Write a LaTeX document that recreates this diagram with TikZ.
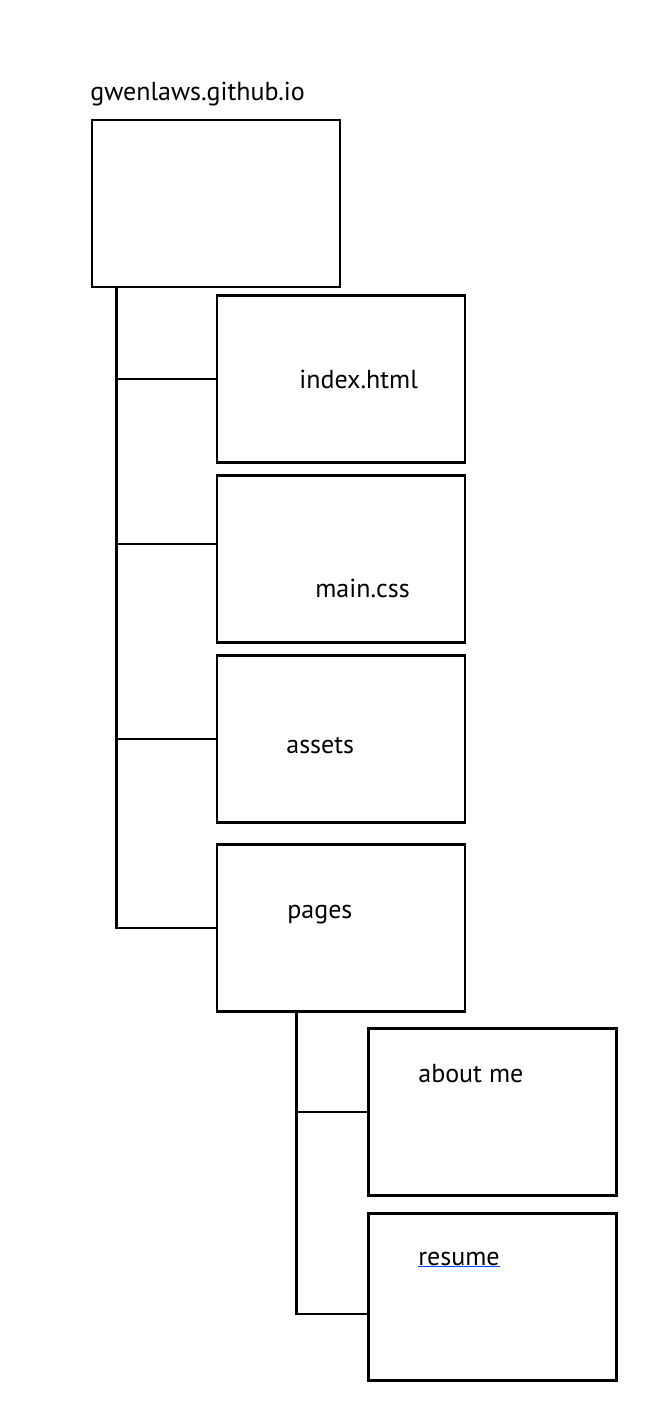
\documentclass[tikz,border=0pt]{standalone}
\usepackage{fontspec}
\setmainfont{PT Sans}
\usepackage{tikz}
\usetikzlibrary{calc}

\begin{document}
\begin{tikzpicture}[x=0.02cm,y=-0.02cm,
  folder/.style={draw,line width=1.6pt,minimum width=4.96cm,minimum height=3.34cm,inner sep=0pt},
  lbl/.style={anchor=base west,inner sep=0pt,font=\fontsize{14.8}{17}\selectfont},
  link/.style={line width=1.6pt}]
\useasboundingbox (0,0) rectangle (662,1416);
\node[lbl] (title) at (90,101) {gwenlaws.github.io};
\node[folder] (root) at (216,203.5) {};
\node[folder] (index) at (341,379) {};
\node[folder] (css) at (341,559) {};
\node[folder] (assets) at (341,739) {};
\node[folder] (pages) at (341,928) {};
\node[folder] (about) at (492.5,1112) {};
\node[folder] (resume) at (492.5,1297) {};
\node[lbl] (tindex) at (299,388) {index.html};
\node[lbl] (tcss) at (315,597) {main.css};
\node[lbl] (tassets) at (286,753) {assets};
\node[lbl] (tpages) at (287,918) {pages};
\node[lbl] (tabout) at (418,1082) {about me};
\node[lbl] (tresume) at (418,1265) {resume};
\draw[blue!70!cyan,line width=0.9pt] (tresume.base west)++(0,1.5) -- ($(tresume.base east)+(0,1.5)$);
% tree lines
\coordinate (t) at ([xshift=0.52cm]root.south west);
\coordinate (s) at ([xshift=1.62cm]pages.south west);
\draw[link] (t) |- (pages.west);
\draw[link] (index.west -| t) -- (index.west);
\draw[link] ([yshift=0.3cm]css.west -| t) -- ([yshift=0.3cm]css.west);
\draw[link] (assets.west -| t) -- (assets.west);
\draw[link] (s) |- ([yshift=-0.34cm]resume.west);
\draw[link] (about.west -| s) -- (about.west);
\end{tikzpicture}
\end{document}
